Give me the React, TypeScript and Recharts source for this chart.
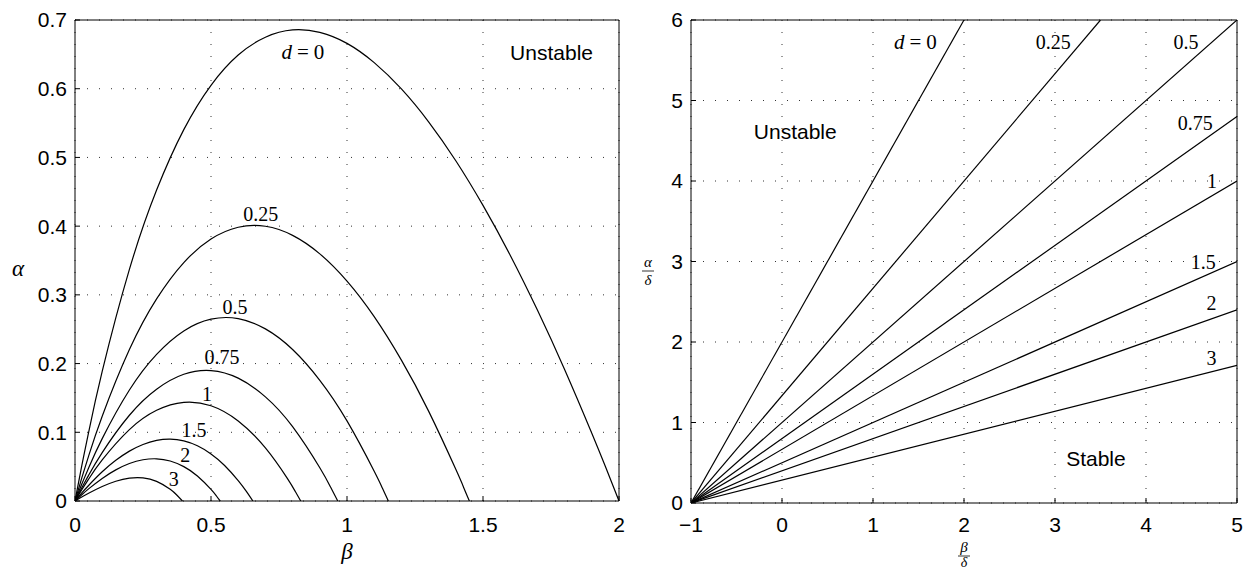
import React from "react";
import { LineChart, Line, XAxis, YAxis, CartesianGrid, ReferenceDot } from "recharts";

// left panel: alpha vs beta, one curve per d (smoothed by hand)
const curveD0 = [[0, 0], [0.025, 0.0514], [0.05, 0.0998], [0.1, 0.1885], [0.2, 0.337], [0.3, 0.4525], [0.4, 0.5405], [0.5, 0.605], [0.6, 0.649], [0.7, 0.675], [0.8, 0.6856], [0.9, 0.682], [1.0, 0.666], [1.1, 0.638], [1.2, 0.5997], [1.3, 0.5519], [1.4, 0.4952], [1.5, 0.4302], [1.6, 0.3577], [1.7, 0.2779], [1.8, 0.1915], [1.9, 0.0987], [1.95, 0.0501], [2.0, 0]];
const curveD025 = [[0, 0], [0.025, 0.0336], [0.05, 0.0653], [0.1, 0.1234], [0.2, 0.2204], [0.3, 0.2941], [0.4, 0.347], [0.5, 0.3812], [0.6, 0.3984], [0.7, 0.3998], [0.8, 0.3866], [0.9, 0.3597], [1.0, 0.32], [1.1, 0.2683], [1.2, 0.205], [1.3, 0.1308], [1.4, 0.0461], [1.43, 0.0187], [1.45, 0]];
const curveD05 = [[0, 0], [0.025, 0.0246], [0.05, 0.048], [0.1, 0.0908], [0.2, 0.1615], [0.3, 0.2134], [0.4, 0.2475], [0.5, 0.2646], [0.6, 0.2654], [0.7, 0.2505], [0.8, 0.2205], [0.9, 0.1757], [1.0, 0.1166], [1.1, 0.0434], [1.13, 0.0188], [1.152, 0]];
const curveD075 = [[0, 0], [0.025, 0.0192], [0.05, 0.0373], [0.1, 0.0705], [0.2, 0.1248], [0.3, 0.1627], [0.4, 0.1844], [0.5, 0.1898], [0.6, 0.1788], [0.7, 0.1516], [0.8, 0.1082], [0.9, 0.0484], [0.94, 0.0199], [0.966, 0]];
const curveD1 = [[0, 0], [0.025, 0.0164], [0.05, 0.0318], [0.1, 0.0597], [0.2, 0.1039], [0.3, 0.132], [0.4, 0.1436], [0.5, 0.1386], [0.6, 0.1165], [0.7, 0.0772], [0.78, 0.0332], [0.81, 0.0138], [0.83, 0]];
const curveD15 = [[0, 0], [0.025, 0.0117], [0.05, 0.0226], [0.1, 0.0425], [0.15, 0.0592], [0.2, 0.0726], [0.25, 0.0823], [0.3, 0.0882], [0.35, 0.09], [0.4, 0.0874], [0.45, 0.0803], [0.5, 0.0685], [0.55, 0.0517], [0.6, 0.0297], [0.63, 0.014], [0.654, 0]];
const curveD2 = [[0, 0], [0.025, 0.009], [0.05, 0.0176], [0.1, 0.0328], [0.15, 0.0453], [0.2, 0.0545], [0.25, 0.06], [0.3, 0.0614], [0.35, 0.0582], [0.4, 0.05], [0.45, 0.0364], [0.5, 0.0169], [0.52, 0.0073], [0.534, 0]];
const curveD3 = [[0, 0], [0.02, 0.0046], [0.05, 0.0112], [0.1, 0.021], [0.15, 0.0287], [0.2, 0.0332], [0.25, 0.0336], [0.3, 0.0286], [0.35, 0.0171], [0.375, 0.0084], [0.395, 0]];

// right panel: alpha/delta vs beta/delta, straight lines through (-1, 0)
const lineD0 = [[-1, 0], [2, 6]];
const lineD025 = [[-1, 0], [3.5, 6]];
const lineD05 = [[-1, 0], [5, 6]];
const lineD075 = [[-1, 0], [5, 4.8]];
const lineD1 = [[-1, 0], [5, 4]];
const lineD15 = [[-1, 0], [5, 3]];
const lineD2 = [[-1, 0], [5, 2.4]];
const lineD3 = [[-1, 0], [5, 1.71]];

const betaTicks = [0, 0.5, 1, 1.5, 2];
const alphaTicks = [0, 0.1, 0.2, 0.3, 0.4, 0.5, 0.6, 0.7];
const ratioXTicks = [-1, 0, 1, 2, 3, 4, 5];
const ratioYTicks = [0, 1, 2, 3, 4, 5, 6];

const leftCurves = [curveD0, curveD025, curveD05, curveD075, curveD1, curveD15, curveD2, curveD3];
const rightLines = [lineD0, lineD025, lineD05, lineD075, lineD1, lineD15, lineD2, lineD3];

// annotation anchors (data coordinates)
const leftTags = [
  { text: "d = 0", x: 0.838, y: 0.654 },
  { text: "0.25", x: 0.683, y: 0.418 },
  { text: "0.5", x: 0.588, y: 0.283 },
  { text: "0.75", x: 0.54, y: 0.21 },
  { text: "1", x: 0.485, y: 0.156 },
  { text: "1.5", x: 0.4375, y: 0.103 },
  { text: "2", x: 0.4055, y: 0.0675 },
  { text: "3", x: 0.363, y: 0.0326 },
  { text: "Unstable", x: 1.752, y: 0.652, sans: true },
];
const rightTags = [
  { text: "d = 0", x: 1.465, y: 5.73 },
  { text: "0.25", x: 2.98, y: 5.73 },
  { text: "0.5", x: 4.44, y: 5.73 },
  { text: "0.75", x: 4.54, y: 4.72 },
  { text: "1", x: 4.725, y: 4.0 },
  { text: "1.5", x: 4.63, y: 2.99 },
  { text: "2", x: 4.72, y: 2.48 },
  { text: "3", x: 4.72, y: 1.8 },
  { text: "Unstable", x: 0.146, y: 4.61, sans: true },
  { text: "Stable", x: 3.45, y: 0.55, sans: true },
];

const SANS = "'Liberation Sans', Arial, Helvetica, sans-serif";
const SERIF = "'Liberation Serif', 'Times New Roman', serif";

const toPts = (pairs: number[][]) => pairs.map(([x, y]) => ({ x, y }));

const Tag = (props: any) => {
  const { viewBox, text, sans } = props;
  const cx = viewBox.x + viewBox.width / 2;
  const cy = viewBox.y + viewBox.height / 2;
  if (text.startsWith("d = ")) {
    return (
      <text x={cx} y={cy} textAnchor="middle" dominantBaseline="central" fontFamily={SERIF} fontSize={21} fill="#000">
        <tspan fontStyle="italic">d</tspan>
        <tspan dx={5}>=</tspan>
        <tspan dx={5}>{text.slice(4)}</tspan>
      </text>
    );
  }
  return (
    <text x={cx} y={cy} textAnchor="middle" dominantBaseline="central" fontFamily={sans ? SANS : SERIF} fontSize={sans ? 21 : 20} fill="#000">
      {text}
    </text>
  );
};

const tickStyle = { fill: "#000", fontSize: 21, fontFamily: SANS };
const fmtTick = (v: number) => (v < 0 ? "\u2212" + Math.abs(v) : String(v));

interface PanelProps {
  width: number;
  margin: { top: number; right: number; bottom: number; left: number };
  yWidth: number;
  xHeight: number;
  xDomain: [number, number];
  yDomain: [number, number];
  xTicks: number[];
  yTicks: number[];
  series: number[][][];
  tags: { text: string; x: number; y: number; sans?: boolean }[];
  curveType: "natural" | "linear";
  xMargin: number;
}

const Panel: React.FC<PanelProps> = (p) => (
  <LineChart width={p.width} height={569} margin={p.margin}>
    <CartesianGrid stroke="#333" strokeDasharray="1 11" />
    <XAxis type="number" dataKey="x" domain={p.xDomain} ticks={p.xTicks} interval={0} allowDataOverflow
      height={p.xHeight} tickSize={-5} tickMargin={p.xMargin} stroke="#000" tick={tickStyle} tickFormatter={fmtTick} />
    <XAxis xAxisId="top" orientation="top" type="number" dataKey="x" domain={p.xDomain} ticks={p.xTicks} interval={0}
      allowDataOverflow height={1} tickSize={-5} tick={false} stroke="#000" />
    <YAxis type="number" domain={p.yDomain} ticks={p.yTicks} interval={0} allowDataOverflow width={p.yWidth}
      tickSize={-5} tickMargin={13} stroke="#000" tick={tickStyle} />
    <YAxis yAxisId="right" orientation="right" type="number" domain={p.yDomain} ticks={p.yTicks} interval={0}
      allowDataOverflow width={1} tickSize={-5} tick={false} stroke="#000" />
    {p.series.map((s, i) => (
      <Line key={i} data={toPts(s)} dataKey="y" type={p.curveType} stroke="#000" strokeWidth={1.2}
        dot={false} activeDot={false} isAnimationActive={false} />
    ))}
    {p.tags.map((t, i) => (
      <ReferenceDot key={"t" + i} x={t.x} y={t.y} r={0} fill="none" stroke="none" ifOverflow="visible"
        label={<Tag text={t.text} sans={t.sans} />} />
    ))}
  </LineChart>
);

const App: React.FC = () => (
  <div style={{ position: "absolute", left: 0, top: 0, width: 1245, height: 569, background: "#fff", overflow: "hidden" }}>
    <div style={{ position: "absolute", left: 0, top: 0 }}>
      <Panel width={640} margin={{ top: 19, right: 20, bottom: 0, left: 0 }} yWidth={75} xHeight={68}
        xDomain={[0, 2]} yDomain={[0, 0.7]} xTicks={betaTicks} yTicks={alphaTicks}
        series={leftCurves} tags={leftTags} curveType="natural" xMargin={21} />
    </div>
    <div style={{ position: "absolute", left: 640, top: 0 }}>
      <Panel width={605} margin={{ top: 19, right: 7, bottom: 0, left: 0 }} yWidth={51} xHeight={66}
        xDomain={[-1, 5]} yDomain={[0, 6]} xTicks={ratioXTicks} yTicks={ratioYTicks}
        series={rightLines} tags={rightTags} curveType="linear" xMargin={19} />
    </div>
    <svg width={1245} height={569} style={{ position: "absolute", left: 0, top: 0, pointerEvents: "none" }}>
      <text x={18} y={268} textAnchor="middle" dominantBaseline="central" fontFamily={SERIF} fontStyle="italic" fontSize={23} fill="#000">α</text>
      <text x={347} y={551} textAnchor="middle" dominantBaseline="central" fontFamily={SERIF} fontStyle="italic" fontSize={23} fill="#000">β</text>
      <text x={648} y={267} textAnchor="middle" fontFamily={SERIF} fontStyle="italic" fontSize={15} fill="#000">α</text>
      <line x1={642} x2={654} y1={271} y2={271} stroke="#000" strokeWidth={0.8} />
      <text x={648} y={285} textAnchor="middle" fontFamily={SERIF} fontStyle="italic" fontSize={15} fill="#000">δ</text>
      <text x={964} y={552} textAnchor="middle" fontFamily={SERIF} fontStyle="italic" fontSize={15} fill="#000">β</text>
      <line x1={958} x2={970} y1={556} y2={556} stroke="#000" strokeWidth={0.8} />
      <text x={964} y={567} textAnchor="middle" fontFamily={SERIF} fontStyle="italic" fontSize={14} fill="#000">δ</text>
    </svg>
  </div>
);

export default App;
